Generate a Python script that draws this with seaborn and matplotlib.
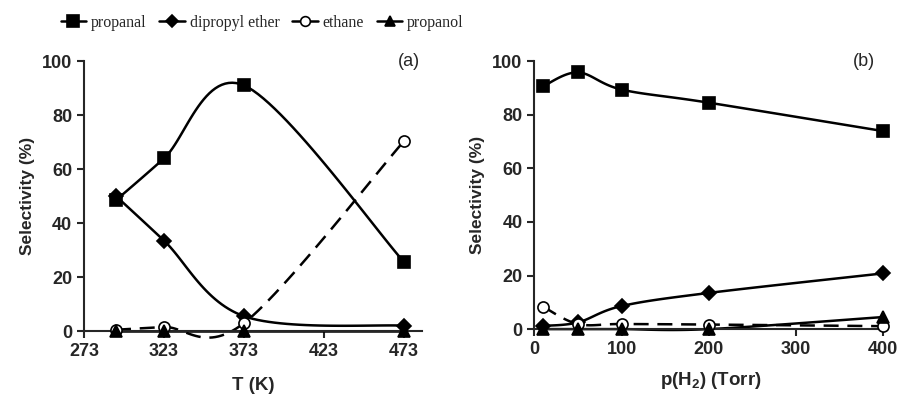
import numpy as np
import matplotlib
matplotlib.use("Agg")
import matplotlib.pyplot as plt
import seaborn as sns
from matplotlib.lines import Line2D

# (a) 온도 의존성
temp_k = [293, 323, 373, 473]
propanal_a = [48.5, 64.0, 91.0, 25.5]
ether_a = [50.0, 33.5, 5.5, 2.0]
ethane_a = [0.5, 1.5, 3.0, 70.5]
propanol_a = [0.0, 0.0, 0.0, 0.0]

# (b) 수소 압력 의존성
p_h2 = [10, 50, 100, 200, 400]
propanal_b = [90.6, 95.8, 89.4, 84.5, 73.9]
ether_b = [1.2, 2.5, 8.6, 13.5, 20.8]
ethane_b = [8.4, 1.9, 1.9, 1.7, 1.1]
propanol_b = [0.0, 0.0, 0.0, 0.0, 4.5]

series_names = ["propanal", "dipropyl ether", "ethane", "propanol"]


def smooth(x, y, xr, yr, n=30):
    # 엑셀식 부드러운 선 (베지어, 화면 비율 기준)
    x = np.asarray(x, float); y = np.asarray(y, float)
    P = np.column_stack([x / xr, y / yr])
    m = len(P)
    out = []
    for i in range(m - 1):
        p0 = P[max(i - 1, 0)]; p1 = P[i]; p2 = P[i + 1]; p3 = P[min(i + 2, m - 1)]
        c1 = p1 + (p2 - p0) / 6
        c2 = p2 - (p3 - p1) / 6
        t = np.linspace(0, 1, n)[:, None]
        seg = (1 - t) ** 3 * p1 + 3 * (1 - t) ** 2 * t * c1 + 3 * (1 - t) * t ** 2 * c2 + t ** 3 * p2
        out.append(seg if i == 0 else seg[1:])
    out = np.vstack(out)
    return out[:, 0] * xr, out[:, 1] * yr


sns.set_style("ticks")
plt.rcParams["font.family"] = ["Liberation Sans", "DejaVu Sans"]
plt.rcParams["mathtext.fontset"] = "custom"
plt.rcParams["mathtext.rm"] = "Liberation Sans:bold"
plt.rcParams["mathtext.it"] = "Liberation Sans:bold"
plt.rcParams["mathtext.default"] = "rm"

fig = plt.figure(figsize=(9.01, 3.97), dpi=100)
ax_a = fig.add_axes([0.0932, 0.166, 0.375, 0.680])
ax_b = fig.add_axes([0.593, 0.171, 0.392, 0.675])

markers = {"propanal": ("s", "black", 9),
           "dipropyl ether": ("D", "black", 7),
           "ethane": ("o", "white", 8),
           "propanol": ("^", "black", 8)}
dash = (0, (6, 3.5))


def draw(ax, x, data, styles, xr):
    for name, y in zip(series_names, data):
        sx, sy = smooth(x, y, xr, 100)
        sns.lineplot(x=sx, y=sy, ax=ax, sort=False, estimator=None, color="black",
                     lw=1.8, linestyle=styles[name], clip_on=False)
    for name, y in zip(series_names, data):
        mk, fc, ms = markers[name]
        ax.plot(x, y, linestyle="none", marker=mk, mfc=fc, mec="black", mew=1.2,
                ms=ms, clip_on=False, zorder=5)


draw(ax_a, temp_k, [propanal_a, ether_a, ethane_a, propanol_a],
     {"propanal": "-", "dipropyl ether": "-", "ethane": dash, "propanol": "-"}, 211)
draw(ax_b, p_h2, [propanal_b, ether_b, ethane_b, propanol_b],
     {"propanal": "-", "dipropyl ether": "-", "ethane": dash, "propanol": "-"}, 405)

for ax in (ax_a, ax_b):
    ax.set_ylim(0, 100)
    ax.set_yticks(range(0, 101, 20))
    ax.set_ylabel("Selectivity (%)", fontsize=12.5, fontweight="bold", labelpad=5)
    ax.tick_params(axis="both", labelsize=13, width=1.5, length=5, direction="out")
    for s in ("left", "bottom"):
        ax.spines[s].set_linewidth(1.5)
    sns.despine(ax=ax)

ax_a.set_xlim(273, 484)
ax_a.set_xticks([273, 323, 373, 423, 473])
ax_a.set_xlabel("T (K)", fontsize=13.5, fontweight="bold", labelpad=12)
ax_b.set_xlim(0, 405)
ax_b.set_xticks(range(0, 401, 100))
ax_b.set_xlabel(r"p(H$_2$) (Torr)", fontsize=13.5, fontweight="bold", labelpad=9)
for ax in (ax_a, ax_b):
    for lab in ax.get_xticklabels() + ax.get_yticklabels():
        lab.set_fontweight("bold")

ax_a.text(0.995, 1.03, "(a)", transform=ax_a.transAxes, ha="right", va="top", fontsize=13)
ax_b.text(0.965, 1.03, "(b)", transform=ax_b.transAxes, ha="right", va="top", fontsize=13)

handles = []
for name in series_names:
    mk, fc, ms = markers[name]
    handles.append(Line2D([], [], color="black", lw=1.8, marker=mk, mfc=fc, mec="black",
                          mew=1.2, ms=ms - 1))
fig.legend(handles, series_names, loc="center", bbox_to_anchor=(0.291, 0.942), ncol=4,
           frameon=False, prop={"family": "Liberation Serif", "size": 11.5},
           handlelength=1.6, handletextpad=0.3, columnspacing=0.8)

fig.savefig("out.png", dpi=100)
